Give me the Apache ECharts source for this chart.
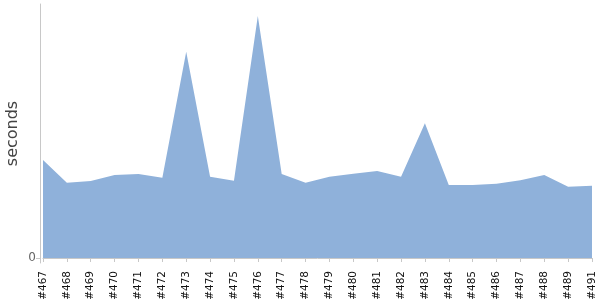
<!DOCTYPE html>
<html><head><meta charset="utf-8">
<script src="https://cdn.jsdelivr.net/npm/echarts@6/dist/echarts.min.js"></script>
<style>html,body{margin:0;padding:0;background:#fff}#c{width:600px;height:300px}</style>
</head><body><div id="c"></div>
<script>
const categories = ['#467','#468','#469','#470','#471','#472','#473','#474','#475','#476','#477','#478','#479','#480','#481','#482','#483','#484','#485','#486','#487','#488','#489','#491'];
const seconds = [98,75.3,77,83,84,80.3,206.3,81.3,77.3,242,84,75.3,81.3,84.3,87,81.3,134.7,73,73,74.3,77.7,83,71.3,72.3];
const yTicks = [0];
const chart = echarts.init(document.getElementById('c'), null, {renderer:'canvas'});
chart.setOption({
  animation:false,
  grid:{left:43,right:8,top:4,bottom:37,outerBoundsMode:'none',containLabel:false},
  xAxis:{type:'category',data:categories,boundaryGap:false,
    axisLine:{lineStyle:{color:'#c8c8c8'}},
    axisTick:{alignWithLabel:true,length:4,lineStyle:{color:'#c8c8c8'}},
    axisLabel:{rotate:90,interval:0,fontSize:10.5,color:'#111',fontFamily:'DejaVu Sans',margin:8}},
  yAxis:{type:'value',min:-5,max:254,offset:3,
    name:'seconds',nameLocation:'middle',nameGap:19,nameMoveOverlap:false,
    nameTextStyle:{fontSize:16,color:'#444',fontFamily:'DejaVu Sans'},
    splitLine:{show:false},
    axisLine:{show:true,lineStyle:{color:'#c8c8c8'}},
    axisTick:{show:true,length:4,customValues:yTicks,lineStyle:{color:'#c8c8c8'}},
    axisLabel:{customValues:yTicks,fontSize:12,color:'#666',fontFamily:'DejaVu Sans',margin:4}},
  series:[{type:'line',data:seconds,symbol:'none',
    lineStyle:{width:0},
    areaStyle:{color:'#8fb1da',opacity:1}}]
});
</script></body></html>
